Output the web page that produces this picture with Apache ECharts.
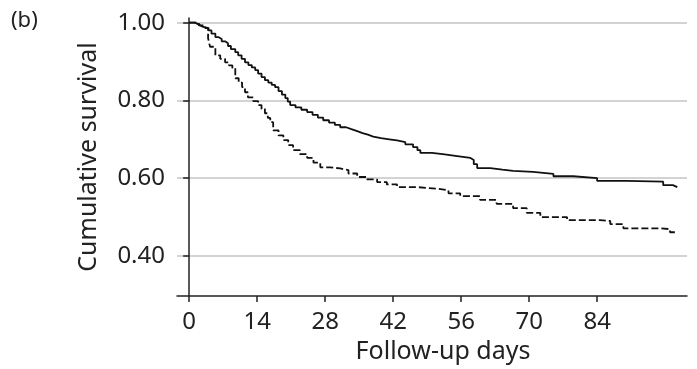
<!DOCTYPE html>
<html><head><meta charset="utf-8">
<script src="https://cdn.jsdelivr.net/npm/echarts@6/dist/echarts.min.js"></script>
<style>html,body{margin:0;padding:0;background:#fff}#c{width:697px;height:369px}</style>
</head><body><div id="c"></div>
<script>
const xTicks = [0, 14, 28, 42, 56, 70, 84];
const yTicks = [0.4, 0.6, 0.8, 1.0];
const solidDays = [0, 1.2, 2.0, 2.7, 4.0, 4.6, 5.4, 6.0, 6.7, 7.4, 8.0, 8.6, 9.5, 10.1, 10.8, 11.5, 12.2, 12.9, 13.6, 14.2, 14.9, 15.6, 16.3, 17.0, 17.7, 18.4, 19.1, 19.8, 20.3, 20.8, 21.9, 23.1, 24.3, 25.4, 26.5, 27.6, 28.8, 30.0, 31.1, 32.3, 33.4, 34.6, 35.7, 36.8, 37.9, 39.5, 41.2, 42.8, 44.5, 46.1, 47.0, 47.6, 50.0, 52.6, 55.2, 57.9, 58.6, 59.3, 62.0, 64.5, 66.7, 70.8, 75.0, 79.1, 84.0, 90.0, 97.6, 99.6, 100.5];
const solidSurv = [1.000, 0.995, 0.990, 0.986, 0.980, 0.972, 0.963, 0.958, 0.952, 0.947, 0.940, 0.932, 0.924, 0.916, 0.907, 0.898, 0.891, 0.885, 0.878, 0.869, 0.860, 0.852, 0.846, 0.840, 0.834, 0.824, 0.815, 0.806, 0.797, 0.788, 0.782, 0.776, 0.770, 0.763, 0.756, 0.749, 0.743, 0.737, 0.731, 0.726, 0.721, 0.716, 0.712, 0.707, 0.703, 0.700, 0.697, 0.693, 0.687, 0.680, 0.672, 0.665, 0.661, 0.657, 0.652, 0.647, 0.636, 0.626, 0.622, 0.619, 0.616, 0.611, 0.605, 0.600, 0.593, 0.591, 0.582, 0.577, 0.577];
const dashDays = [0, 2.0, 3.3, 3.9, 4.3, 5.4, 6.4, 7.4, 8.2, 8.9, 9.5, 10.2, 10.9, 11.5, 12.1, 13.2, 14.2, 14.9, 15.6, 16.2, 16.7, 17.3, 18.4, 19.4, 20.4, 21.4, 22.8, 24.3, 25.6, 27.0, 29.0, 31.1, 32.8, 34.6, 36.6, 38.7, 40.7, 42.8, 47.0, 51.1, 53.4, 55.8, 59.9, 63.3, 66.7, 69.5, 72.3, 77.8, 84.6, 86.7, 89.4, 97.0, 99.0, 100.0];
const dashSurv = [1.000, 0.993, 0.986, 0.960, 0.938, 0.916, 0.907, 0.898, 0.890, 0.883, 0.857, 0.846, 0.834, 0.821, 0.808, 0.798, 0.788, 0.778, 0.767, 0.755, 0.744, 0.723, 0.710, 0.698, 0.685, 0.672, 0.662, 0.652, 0.640, 0.628, 0.625, 0.621, 0.612, 0.603, 0.597, 0.590, 0.584, 0.577, 0.573, 0.569, 0.561, 0.554, 0.544, 0.534, 0.523, 0.511, 0.500, 0.492, 0.490, 0.482, 0.471, 0.469, 0.461, 0.461];

const zip = (a, b) => a.map((v, i) => [v, b[i]]);
const font = "'Noto Sans', sans-serif";
const chart = echarts.init(document.getElementById('c'), null, {renderer: 'canvas'});
chart.setOption({
  animation: false,
  backgroundColor: '#fff',
  grid: {left: 177, right: 10, top: 18, bottom: 73, containLabel: false},
  xAxis: {
    type: 'value', min: -2.5, max: 102.5,
    name: 'Follow-up days', nameLocation: 'middle', nameGap: 43,
    nameTextStyle: {fontFamily: font, fontSize: 25, color: '#222', padding: [0, 0, 0, 22]},
    axisLine: {show: true, lineStyle: {color: '#222', width: 1.5}},
    axisTick: {show: true, length: 6, lineStyle: {color: '#222', width: 1.5}, customValues: xTicks},
    axisLabel: {customValues: xTicks, fontFamily: font, fontSize: 24, color: '#222', margin: 14},
    splitLine: {show: false}
  },
  yAxis: {
    type: 'value', min: 0.297, max: 1.012,
    name: 'Cumulative survival', nameLocation: 'middle', nameGap: 76, nameRotate: 90,
    nameTextStyle: {fontFamily: font, fontSize: 25, color: '#222'},
    axisLine: {show: true, lineStyle: {color: '#222', width: 1.5}},
    axisTick: {show: true, length: 6, lineStyle: {color: '#222', width: 1.5}, customValues: yTicks},
    axisLabel: {customValues: yTicks, fontFamily: font, fontSize: 24, color: '#222', margin: 12,
      formatter: v => v.toFixed(2)},
    splitLine: {show: true, lineStyle: {color: '#c4c4c4', width: 1.5}}
  },
  graphic: [{type: 'text', left: 11, top: 10, style: {text: '(b)', fontFamily: font, fontSize: 22, fill: '#222'}}],
  series: [
    {type: 'line', step: 'end', symbol: 'none', data: zip(solidDays, solidSurv),
     lineStyle: {color: '#111', width: 1.8}},
    {type: 'line', step: 'end', symbol: 'none', data: zip(dashDays, dashSurv),
     lineStyle: {color: '#111', width: 1.8, type: [7, 3]}}
  ]
});
</script></body></html>
